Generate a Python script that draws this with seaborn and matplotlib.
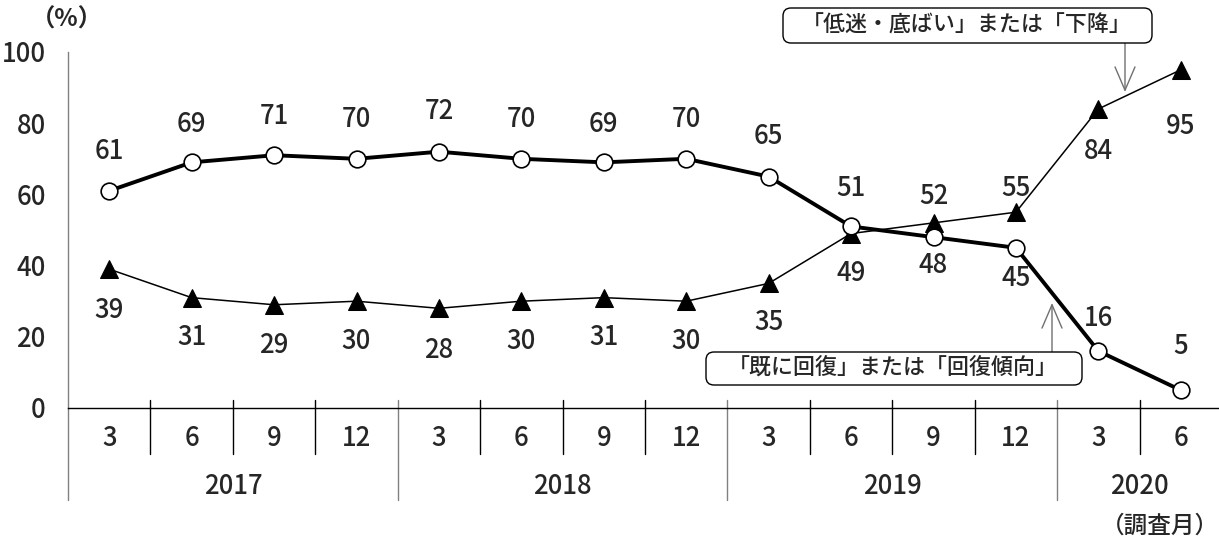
import matplotlib
matplotlib.use("Agg")
import matplotlib.pyplot as plt
import seaborn as sns
import numpy as np
import pandas as pd
from matplotlib.lines import Line2D
from matplotlib.patches import FancyBboxPatch

# ---- data ----
months = ["3", "6", "9", "12", "3", "6", "9", "12", "3", "6", "9", "12", "3", "6"]
years = ["2017", "2018", "2019", "2020"]
year_spans = [(0, 4), (4, 8), (8, 12), (12, 14)]
recovered = [61, 69, 71, 70, 72, 70, 69, 70, 65, 51, 48, 45, 16, 5]
stagnant = [39, 31, 29, 30, 28, 30, 31, 30, 35, 49, 52, 55, 84, 95]
label_recovered = "「既に回復」または「回復傾向」"
label_stagnant = "「低迷・底ばい」または「下降」"

# label offsets (px, positive = above)
off_rec = [39, 38, 39, 39, 40, 39, 38, 39, 40, 38, -28, -31, 33, 44]
off_stg = [-41, -40, -41, -40, -42, -40, -40, -40, -39, -40, 26, 24, -43, -57]

sns.set_theme(style="white")
plt.rcParams['font.family'] = ['Noto Sans CJK JP', 'DejaVu Sans']
FS = 18.5
FW = "medium"

W, H = 1219, 544
fig = plt.figure(figsize=(W / 100, H / 100), dpi=100)
ax = fig.add_axes([68 / W, (544 - 408) / H, (1222 - 68) / W, 356 / H])

x = np.arange(len(months))
df = pd.DataFrame({"x": x, "rec": recovered, "stg": stagnant})

sns.lineplot(data=df, x="x", y="stg", ax=ax, color="black", linewidth=1.1,
             marker="^", markersize=13.5, markerfacecolor="black",
             markeredgecolor="black", zorder=3)
sns.lineplot(data=df, x="x", y="rec", ax=ax, color="black", linewidth=2.8,
             marker="o", markersize=12, markerfacecolor="white",
             markeredgecolor="black", markeredgewidth=1.2, zorder=4)

ax.set_xlim(-0.5, len(months) - 0.5)
ax.set_ylim(0, 100)
ax.set_yticks(range(0, 101, 20))
ax.set_yticklabels([str(v) for v in range(0, 101, 20)], fontsize=FS, fontweight=FW)
ax.tick_params(axis="y", direction="in", length=6, color="#808080", pad=16)
ax.set_xticks([])
ax.set_xlabel("")
ax.set_ylabel("")
for s in ["top", "right"]:
    ax.spines[s].set_visible(False)
ax.spines["left"].set_color("#808080")
ax.spines["bottom"].set_color("black")
ax.spines["left"].set_linewidth(1.0)
ax.spines["bottom"].set_linewidth(1.0)

# data labels
for xi, v, o in zip(x, recovered, off_rec):
    ax.annotate(str(v), (xi, v), xytext=(0, o * 0.72), textcoords="offset points",
                ha="center", va="center", fontsize=FS, fontweight=FW)
for xi, v, o in zip(x, stagnant, off_stg):
    ax.annotate(str(v), (xi, v), xytext=(0, o * 0.72), textcoords="offset points",
                ha="center", va="center", fontsize=FS, fontweight=FW)

# category axis
tr = ax.get_xaxis_transform()
ph = 356.0
for k in range(0, len(months) + 1):
    xb = k - 0.5
    is_year = k in (0, 4, 8, 12)
    if k == 0:
        ax.add_line(Line2D([xb, xb], [0, -92 / ph], transform=tr, color="#808080",
                           lw=1.0, clip_on=False))
    elif is_year:
        ax.add_line(Line2D([xb, xb], [8 / ph, -92 / ph], transform=tr, color="#808080",
                           lw=1.0, clip_on=False))
    elif k < len(months):
        ax.add_line(Line2D([xb, xb], [8 / ph, -46 / ph], transform=tr, color="black",
                           lw=1.0, clip_on=False))
for xi, m in zip(x, months):
    ax.text(xi, -31 / ph, m, transform=tr, ha="center", va="center", fontsize=FS, fontweight=FW)
for yl, (a, b) in zip(years, year_spans):
    ax.text((a + b - 1) / 2, -78 / ph, yl, transform=tr, ha="center", va="center",
            fontsize=FS, fontweight=FW)

fig.text(67 / W, 1 - 20 / H, "（%）", ha="center", va="center", fontsize=17.5, fontweight="bold")
fig.text(1160 / W, 1 - 526 / H, "（調査月）", ha="center", va="center", fontsize=17, fontweight=FW)

# callouts (pixel positions -> inches)
px = fig.dpi_scale_trans
def callout(x0, y0, x1, y1, text, tx):
    patch = FancyBboxPatch((x0 / 100, (H - y1) / 100), (x1 - x0) / 100, (y1 - y0) / 100,
                           boxstyle="round,pad=0,rounding_size=0.08",
                           transform=px, fc="white", ec="black", lw=1.0, zorder=6)
    fig.add_artist(patch)
    fig.text(tx / W, 1 - (y0 + y1) / 2 / H, text, ha="center", va="center",
             fontsize=15.8, fontweight=FW, zorder=7)

callout(783, 8, 1152, 43, label_stagnant, 967)
callout(706, 352, 1082, 385, label_recovered, 893)

arrow = dict(arrowstyle="->,head_length=1.4,head_width=0.6", color="#707070", lw=1.0,
             shrinkA=0, shrinkB=0)
ax.annotate("", xy=(1125 / 100, (H - 92) / 100), xytext=(1125 / 100, (H - 43) / 100),
            xycoords=px, textcoords=px, arrowprops=arrow, annotation_clip=False)
ax.annotate("", xy=(1052 / 100, (H - 303) / 100), xytext=(1052 / 100, (H - 352) / 100),
            xycoords=px, textcoords=px, arrowprops=arrow, annotation_clip=False)

fig.savefig("out.png", dpi=100, facecolor="white")
